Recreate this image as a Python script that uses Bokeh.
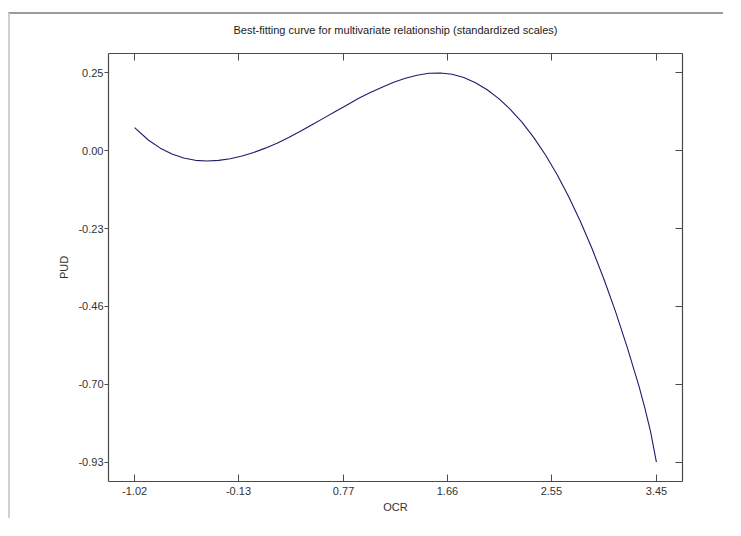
from bokeh.plotting import figure
from bokeh.models import LinearAxis, FixedTicker, Range1d, CustomLabelingPolicy
from bokeh.embed import file_html
from bokeh.resources import INLINE

# ---- data ----
ocr = [-1.02, -0.9, -0.8, -0.7, -0.6, -0.5, -0.4, -0.3, -0.2, -0.1,
       0.0, 0.1, 0.2, 0.3, 0.4, 0.5, 0.6, 0.7, 0.8, 0.9,
       1.0, 1.1, 1.2, 1.3, 1.4, 1.5, 1.6, 1.7, 1.8, 1.9,
       2.0, 2.1, 2.2, 2.3, 2.4, 2.5, 2.6, 2.7, 2.8, 2.9,
       3.0, 3.1, 3.2, 3.3, 3.35, 3.4, 3.45]
pud = [0.084, 0.046, 0.022, 0.004, -0.008, -0.015, -0.017, -0.015, -0.010, -0.002,
       0.009, 0.022, 0.037, 0.054, 0.073, 0.093, 0.113, 0.133, 0.153, 0.173,
       0.191, 0.207, 0.222, 0.234, 0.243, 0.249, 0.250, 0.246, 0.236, 0.220,
       0.199, 0.172, 0.139, 0.100, 0.054, 0.001, -0.059, -0.126, -0.201, -0.284,
       -0.375, -0.474, -0.582, -0.699, -0.765, -0.838, -0.93]

x_tick_values = [-1.02, -0.13, 0.77, 1.66, 2.55, 3.45]
x_tick_labels = ["-1.02", "-0.13", "0.77", "1.66", "2.55", "3.45"]
y_tick_values = [0.25, 0.014, -0.222, -0.458, -0.694, -0.93]
y_tick_labels = ["0.25", "0.00", "-0.23", "-0.46", "-0.70", "-0.93"]

title_text = "Best-fitting curve for multivariate relationship (standardized scales)"
x_label = "OCR"
y_label = "PUD"

FONT = "Liberation Sans"
AXC = "#4a4a4a"

p = figure(width=715, height=506, output_backend="svg", toolbar_location=None,
           x_range=Range1d(-1.2435, 3.6735), y_range=Range1d(-0.989, 0.309),
           min_border_left=98, min_border_right=43, min_border_top=39,
           min_border_bottom=39, title=title_text)
# outer frame lines of the original picture
p.styles = {"margin-top": "12px", "margin-left": "8px",
            "border-top": "2px solid #9c9c9c", "border-left": "2px solid #d0d0d0"}
p.background_fill_color = "white"
p.border_fill_color = "white"
p.grid.visible = False
p.outline_line_color = None

p.title.align = "center"
p.title.text_font = FONT
p.title.text_font_size = "11px"
p.title.text_font_style = "normal"
p.title.text_color = "#222222"
p.title.standoff = 13

p.line(ocr, pud, line_color="#1c1c6a", line_width=1.1)

def style_axis(ax, tin, tout):
    ax.axis_line_color = AXC
    ax.axis_line_width = 1.2
    ax.major_tick_line_color = AXC
    ax.major_tick_in = tin
    ax.major_tick_out = tout
    ax.minor_tick_line_color = None
    ax.major_label_text_font = FONT
    ax.major_label_text_font_size = "11px"
    ax.major_label_text_color = "#333333"
    ax.axis_label_text_font = FONT
    ax.axis_label_text_font_size = "11px"
    ax.axis_label_text_font_style = "normal"
    ax.axis_label_text_color = "#333333"

xb = p.xaxis[0]
xb.ticker = FixedTicker(ticks=x_tick_values)
xb.major_label_overrides = dict(zip(x_tick_values, x_tick_labels))
xb.axis_label = x_label
style_axis(xb, 7, 0)
xb.major_label_standoff = 5
xb.axis_label_standoff = 3

yl = p.yaxis[0]
yl.ticker = FixedTicker(ticks=y_tick_values)
yl.major_label_overrides = dict(zip(y_tick_values, y_tick_labels))
yl.axis_label = y_label
style_axis(yl, 0, 4)
yl.major_label_standoff = 1
yl.axis_label_standoff = 5

xt = LinearAxis(ticker=FixedTicker(ticks=x_tick_values),
                major_label_policy=CustomLabelingPolicy(code="return new Set()"))
style_axis(xt, 7, 0)
xt.major_label_standoff = 0
p.add_layout(xt, "above")

yr = LinearAxis(ticker=FixedTicker(ticks=y_tick_values),
                major_label_policy=CustomLabelingPolicy(code="return new Set()"))
style_axis(yr, 7, 0)
yr.major_label_standoff = 0
p.add_layout(yr, "right")

open("out.html", "w").write(file_html(p, INLINE))
